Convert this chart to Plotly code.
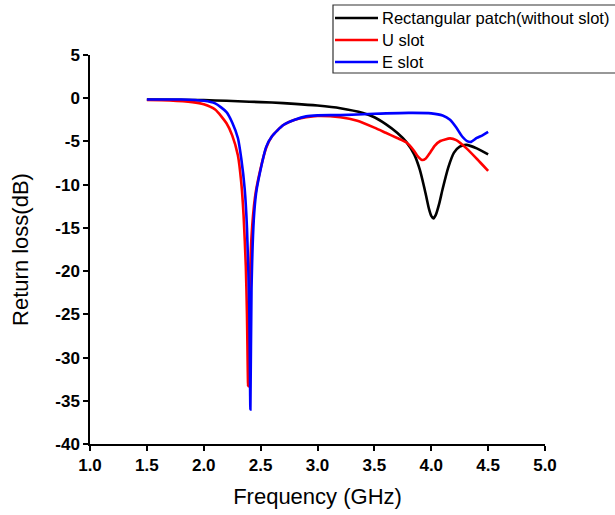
import plotly.graph_objects as go

# Rectangular patch (without slot)
f_rect = [1.5, 1.8, 2.0, 2.2, 2.4, 2.6, 2.8, 3.0, 3.2, 3.4, 3.5, 3.6, 3.7, 3.78, 3.85, 3.9,
          3.95, 3.98, 4.0, 4.02, 4.04, 4.07, 4.1, 4.15, 4.2, 4.25, 4.31, 4.4, 4.5]
rl_rect = [-0.15, -0.18, -0.22, -0.3, -0.4, -0.5, -0.65, -0.85, -1.15, -1.7, -2.2, -3.0, -4.0,
           -5.05, -6.5, -8.3, -11.0, -12.8, -13.6, -13.9, -13.5, -12.2, -10.5, -8.0, -6.3, -5.6,
           -5.4, -5.8, -6.5]

# U slot
f_u = [1.5, 1.7, 1.9, 2.0, 2.1, 2.2, 2.25, 2.3, 2.33, 2.35, 2.37, 2.38, 2.39, 2.40, 2.42,
       2.45, 2.48, 2.55, 2.6, 2.7, 2.8, 2.9, 3.0, 3.2, 3.35, 3.5, 3.6, 3.7, 3.78, 3.85, 3.88,
       3.92, 3.95, 3.99, 4.03, 4.08, 4.165, 4.22, 4.31, 4.4, 4.5]
rl_u = [-0.2, -0.25, -0.45, -0.7, -1.3, -2.9, -4.3, -6.6, -9.8, -13.5, -19.5, -25.0, -33.3,
        -24.0, -16.0, -11.5, -9.3, -5.7, -4.4, -3.1, -2.5, -2.2, -2.05, -2.2, -2.6, -3.4, -4.0,
        -4.6, -5.1, -6.1, -6.7, -7.15, -7.0, -6.3, -5.5, -4.95, -4.65, -4.85, -5.8, -7.0, -8.4]

# E slot
f_e = [1.5, 1.8, 2.0, 2.1, 2.2, 2.25, 2.3, 2.33, 2.36, 2.38, 2.40, 2.41, 2.42, 2.44, 2.46,
       2.48, 2.55, 2.6, 2.7, 2.8, 2.9, 3.0, 3.2, 3.5, 3.8, 4.0, 4.1, 4.165, 4.22, 4.27, 4.32,
       4.35, 4.4, 4.45, 4.5]
rl_e = [-0.15, -0.15, -0.3, -0.6, -1.6, -2.8, -4.6, -7.0, -10.5, -15.0, -24.0, -36.0, -22.0,
        -14.0, -11.0, -9.5, -5.6, -4.4, -3.1, -2.5, -2.1, -1.98, -1.95, -1.8, -1.7, -1.75, -2.0,
        -2.5, -3.4, -4.4, -5.0, -5.05, -4.6, -4.3, -3.9]

x_ticks = [1.0, 1.5, 2.0, 2.5, 3.0, 3.5, 4.0, 4.5, 5.0]
x_labels = ["1.0", "1.5", "2.0", "2.5", "3.0", "3.5", "4.0", "4.5", "5.0"]
y_ticks = [-40, -35, -30, -25, -20, -15, -10, -5, 0, 5]
y_labels = ["-40", "-35", "-30", "-25", "-20", "-15", "-10", "-5", "0", "5"]

names = ["Rectangular patch(without slot)", "U slot", "E slot"]
colors = ["#000000", "#ff0000", "#0000ff"]

W, H = 615, 515
ML, MR, MT, MB = 90, 70, 55, 71
PW, PH = W - ML - MR, H - MT - MB


def px_x(p):
    return (p - ML) / PW


def px_y(p):
    return (H - MB - p) / PH


fig = go.Figure()
for xs, ys, nm, c in zip([f_rect, f_u, f_e], [rl_rect, rl_u, rl_e], names, colors):
    fig.add_trace(go.Scatter(x=xs, y=ys, mode="lines", name=nm, showlegend=False,
                             line=dict(color=c, width=2.6, shape="spline", smoothing=0.6)))

# legend drawn as a box with line samples and text
shapes = [dict(type="rect", xref="paper", yref="paper",
               x0=px_x(333), x1=px_x(640), y0=px_y(73), y1=px_y(5),
               line=dict(color="#333333", width=1.2), fillcolor="white", layer="above")]
annotations = []
for i, (nm, c) in enumerate(zip(names, colors)):
    yy = 18 + 22 * i
    shapes.append(dict(type="line", xref="paper", yref="paper",
                       x0=px_x(335), x1=px_x(378), y0=px_y(yy), y1=px_y(yy),
                       line=dict(color=c, width=2.6), layer="above"))
    annotations.append(dict(xref="paper", yref="paper", x=px_x(380), y=px_y(yy),
                            xanchor="left", yanchor="middle", text=nm, showarrow=False,
                            font=dict(family="Liberation Sans, Arial", size=16.5, color="black")))

tickfont = dict(family="Liberation Sans Bold, Liberation Sans, Arial", size=17,
                color="black", weight=700)

fig.update_layout(
    width=W, height=H,
    margin=dict(l=ML, r=MR, t=MT, b=MB, autoexpand=False),
    plot_bgcolor="white", paper_bgcolor="white",
    font=dict(family="Liberation Sans, Arial", color="black"),
    showlegend=False,
    shapes=shapes,
    annotations=annotations,
    xaxis=dict(range=[1.0, 5.0], tickvals=x_ticks,
               ticktext=["<b>%s</b>" % t for t in x_labels],
               showline=True, linecolor="black", linewidth=1.5, ticks="outside",
               ticklen=5, tickwidth=1.5, tickcolor="black", showgrid=False, zeroline=False,
               tickfont=tickfont,
               title=dict(text="Frequency (GHz)", font=dict(size=22, family="Liberation Sans, Arial"),
                          standoff=14)),
    yaxis=dict(range=[-40, 5], tickvals=y_ticks,
               ticktext=["<b>%s</b>" % t for t in y_labels],
               showline=True, linecolor="black", linewidth=1.5, ticks="outside",
               ticklen=5, tickwidth=1.5, tickcolor="black", showgrid=False, zeroline=False,
               tickfont=tickfont,
               title=dict(text="Return loss(dB)", font=dict(size=22, family="Liberation Sans, Arial"),
                          standoff=21)),
)

fig.write_html("out.html")
